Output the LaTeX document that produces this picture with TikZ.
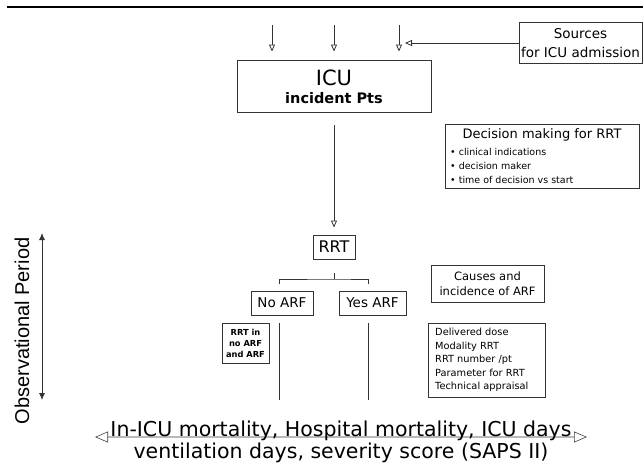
\documentclass[tikz,border=0pt]{standalone}
\usepackage{fontspec}
\setmainfont{DejaVu Sans}
\newfontfamily\arialfont{Liberation Sans}
\usetikzlibrary{arrows.meta,calc}
\begin{document}
\begin{tikzpicture}[x=1pt,y=-1pt,
  ln/.style={draw=black!80, line width=0.8pt},
  box/.style={draw=black!80, line width=0.9pt, inner sep=0pt, align=center},
  oarrow/.style={ln, -{Triangle[open,length=7pt,width=6pt]}},
  fs/.style={font=\fontsize{#1}{#1}\selectfont},
]
\useasboundingbox (0,0) rectangle (643,466);
% top rule
\coordinate (rl) at (7,7); \coordinate (rr) at (643,7);
\draw[line width=1.2pt] (rl) -- (rr);

% ICU box
\node[box, minimum width=194pt, minimum height=52pt] (icu) at (334,86) {};
\node[anchor=base, inner sep=0pt, fs=21] (icut) at (334,85) {ICU};
\node[anchor=base, inner sep=0pt, font=\fontsize{14.5}{14.5}\selectfont\bfseries] (icub) at (334,103) {incident Pts};

% incoming arrows
\coordinate (in1) at (272,25); \coordinate (in2) at (334,25); \coordinate (in3) at (399,25);
\draw[oarrow, shorten >=8pt] (in1) -- (icu.north -| in1);
\draw[oarrow, shorten >=8pt] (in2) -- (icu.north -| in2);
\draw[oarrow, shorten >=8pt] (in3) -- (icu.north -| in3);

% sources
\node[box, minimum width=123pt, minimum height=41pt, font=\fontsize{13.5}{19}\selectfont] (src) at (580.5,43) {Sources\\for ICU admission};
\coordinate (s3) at (399,43);
\draw[oarrow, shorten >=6pt] (src.west) -- (s3);

% decision box
\node[box, minimum width=194pt, minimum height=64pt] (dec) at (542,156) {};
\node[inner sep=0pt, fs=13] (dect) at (542,135) {Decision making for RRT};
\node[inner sep=0pt, anchor=west, align=left, font=\fontsize{9.5}{14}\selectfont] (decl) at (450,166)
  {• clinical indications\\• decision maker\\• time of decision vs start};

% RRT
\node[box, minimum width=42pt, minimum height=24pt, fs=16] (rrt) at (334,247) {RRT};
\draw[oarrow, shorten <=13pt, shorten >=7pt] (icu.south) -- (rrt.north);

% bracket
\node[box, minimum width=62pt, minimum height=24pt, fs=13.5] (noarf) at (282,303) {No ARF};
\node[box, minimum width=67pt, minimum height=24pt, fs=13.5] (yesarf) at (372.5,303) {Yes ARF};
\coordinate (brc) at (334,279);
\coordinate (nl) at (279,400); \coordinate (yl) at (368,400);
\draw[ln] ($(rrt.south)+(0,14)$) -- (brc);
\draw[ln] ($(noarf.north -| nl)+(0,-7)$) |- (brc) -| ($(yesarf.north -| yl)+(0,-7)$);
\draw[ln, shorten <=8pt] (noarf.south -| nl) -- (nl);
\draw[ln, shorten <=8pt] (yesarf.south -| yl) -- (yl);

% RRT in no ARF
\node[box, minimum width=47pt, minimum height=40pt, font=\fontsize{8.3}{11}\selectfont\bfseries] (rrtin) at (245.5,343) {RRT in\\no ARF\\and ARF};

% causes
\node[box, minimum width=113pt, minimum height=37pt, font=\fontsize{11.5}{15}\selectfont] (causes) at (487.5,283.5) {Causes and\\incidence of ARF};

% delivered
\node[box, minimum width=117pt, minimum height=74pt] (deliv) at (486.5,360) {};
\node[inner sep=0pt, anchor=west, align=left, font=\fontsize{9.8}{13.5}\selectfont] (delivt) at (435,360)
  {Delivered dose\\Modality RRT\\RRT number /pt\\Parameter for RRT\\Technical appraisal};

% observational period
\node[rotate=90, inner sep=0pt, font=\arialfont\fontsize{20}{20}\selectfont] (obs) at (22,331) {Observational Period};
\coordinate (ot) at (42,233); \coordinate (ob) at (42,400);
\draw[ln, {Latex[length=7pt,width=6pt]}-{Latex[length=7pt,width=6pt]}] (ot) -- (ob);

% outcome arrow
\coordinate (bl) at (95,437); \coordinate (br) at (587,437);
\draw[draw=black!75, line width=0.6pt, double=gray!55, double distance=1.6pt,
  {Triangle[open,length=13pt,width=11pt]}-{Triangle[open,length=13pt,width=11pt]}] (bl) -- (br);
\node[anchor=base, inner sep=0pt, fs=20.5] (out1) at (341,436.5) {In-ICU mortality, Hospital mortality, ICU days};
\node[anchor=base, inner sep=0pt, fs=20.5] (out2) at (341,458) {ventilation days, severity score (SAPS II)};
\end{tikzpicture}
\end{document}
